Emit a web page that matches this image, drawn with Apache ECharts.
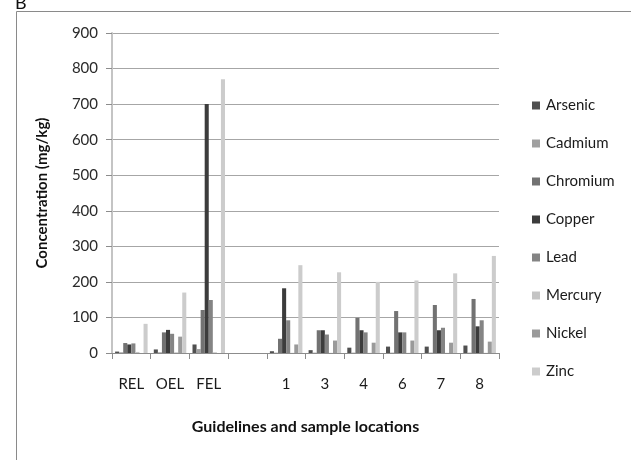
<!DOCTYPE html>
<html>
<head>
<meta charset="utf-8">
<script src="https://cdn.jsdelivr.net/npm/echarts@6/dist/echarts.min.js"></script>
<style>html,body{margin:0;padding:0;background:#fff}#c{width:631px;height:460px}</style>
</head>
<body>
<div id="c"></div>
<script>
const categories = ['REL', 'OEL', 'FEL', '', '1', '3', '4', '6', '7', '8'];
const yTicks = [0, 100, 200, 300, 400, 500, 600, 700, 800, 900];
const arsenic  = [4, 10, 24, null, 5, 8, 15, 18, 18, 21];
const cadmium  = [2, 2, 11, null, 1, 1, 1, 1, 1, 1];
const chromium = [28, 58, 121, null, 40, 64, 99, 118, 135, 152];
const copper   = [24, 65, 700, null, 182, 64, 64, 58, 64, 75];
const lead     = [27, 54, 149, null, 92, 52, 58, 58, 71, 92];
const mercury  = [3, 2, 2, null, 0.5, 0.5, 0.5, 0.5, 0.5, 0.5];
const nickel   = [0, 46, 0, null, 24, 35, 29, 35, 29, 32];
const zinc     = [82, 170, 770, null, 247, 227, 200, 204, 224, 273];

const seriesDefs = [
  ['Arsenic', arsenic, '#505050'],
  ['Cadmium', cadmium, '#a0a0a0'],
  ['Chromium', chromium, '#727272'],
  ['Copper', copper, '#3c3c3c'],
  ['Lead', lead, '#848484'],
  ['Mercury', mercury, '#c4c4c4'],
  ['Nickel', nickel, '#9a9a9a'],
  ['Zinc', zinc, '#cccccc']
];

const FONT = 'Lato, "Open Sans", sans-serif';
const chart = echarts.init(document.getElementById('c'), null, {renderer: 'canvas'});
chart.setOption({
  animation: false,
  backgroundColor: '#ffffff',
  textStyle: {fontFamily: FONT},
  graphic: [
    {type: 'rect', left: 14, top: 9, shape: {width: 615, height: 470}, style: {fill: 'none', stroke: '#8a8a8a', lineWidth: 1}, silent: true},
    {type: 'text', left: 15, top: -6, style: {text: 'B', fill: '#111', font: '18px ' + FONT}, silent: true}
  ],
  legend: {
    orient: 'vertical',
    left: 527,
    top: 93,
    itemWidth: 8,
    itemHeight: 8,
    itemGap: 23,
    icon: 'rect',
    textStyle: {fontSize: 15, color: '#1a1a1a', fontFamily: FONT, padding: [0, 0, 0, 1]},
    data: seriesDefs.map(s => s[0])
  },
  grid: {left: 112, right: 132, top: 33, bottom: 107, containLabel: false},
  xAxis: {
    type: 'category',
    data: categories,
    name: 'Guidelines and sample locations',
    nameLocation: 'middle',
    nameGap: 66,
    nameTextStyle: {fontSize: 16, fontWeight: 'bold', color: '#111', fontFamily: FONT},
    axisLine: {lineStyle: {color: '#8c8c8c', width: 1}},
    axisTick: {show: true, length: 6, alignWithLabel: false, lineStyle: {color: '#8c8c8c'}},
    axisLabel: {fontSize: 15, color: '#1a1a1a', margin: 24, fontFamily: FONT, interval: 0},
    splitLine: {show: false}
  },
  yAxis: {
    type: 'value',
    min: 0,
    max: 900,
    interval: 100,
    name: 'Concentration (mg/kg)',
    nameLocation: 'middle',
    nameGap: 62,
    nameTextStyle: {fontSize: 15, fontWeight: 'bold', color: '#111', fontFamily: FONT},
    axisLine: {show: true, lineStyle: {color: '#c4c4c4', width: 2}},
    axisTick: {show: true, length: 6, inside: false, lineStyle: {color: '#8c8c8c'}},
    axisLabel: {fontSize: 15, color: '#2a2a2a', margin: 14, fontFamily: FONT,
      formatter: v => yTicks.includes(v) ? String(v) : ''},
    splitLine: {show: true, lineStyle: {color: '#a6a6a6', width: 1}}
  },
  series: seriesDefs.map(([name, data, color]) => ({
    name: name,
    type: 'bar',
    data: data,
    barGap: '0%',
    barCategoryGap: '16%',
    itemStyle: {color: color},
    emphasis: {disabled: true}
  }))
});
</script>
</body>
</html>
